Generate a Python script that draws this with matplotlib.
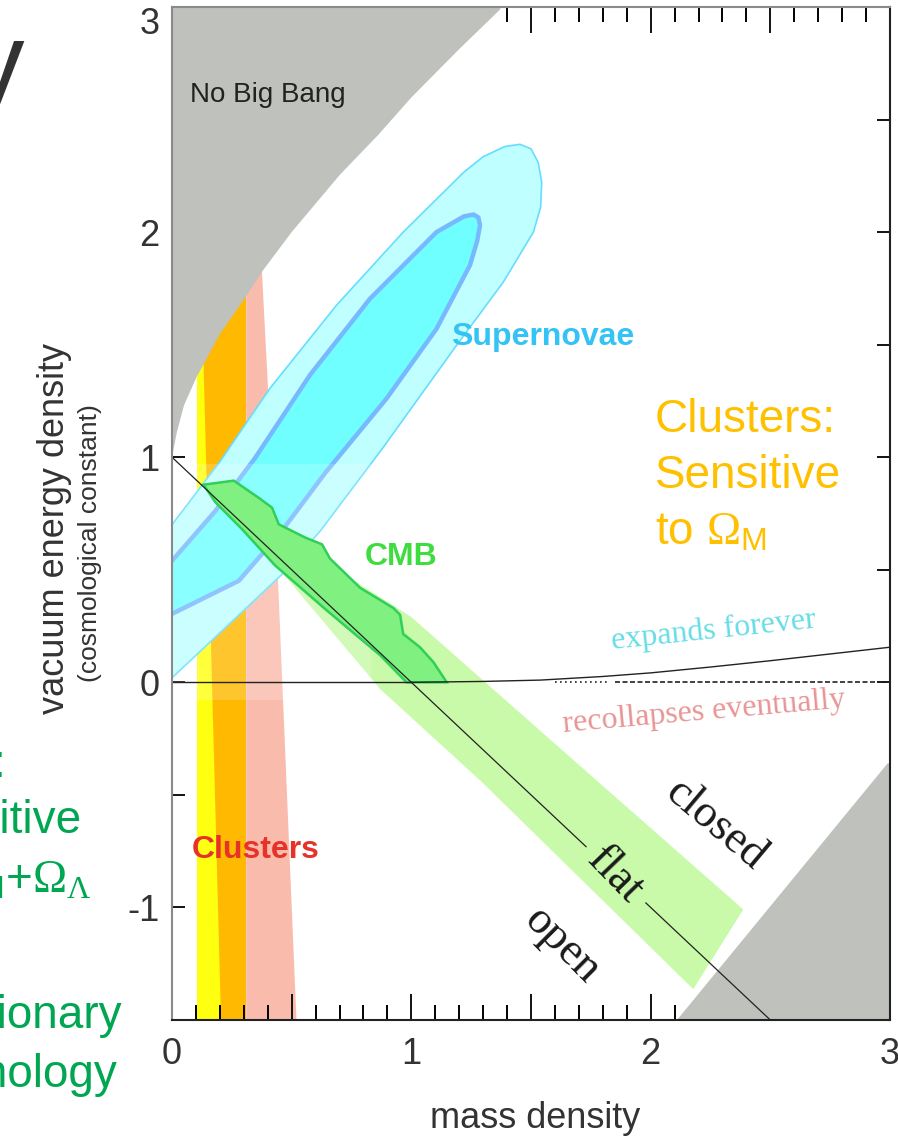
import matplotlib
matplotlib.use("Agg")
import matplotlib.pyplot as plt

plt.rcParams['font.family'] = ['Liberation Sans', 'DejaVu Sans']
plt.rcParams['axes.unicode_minus'] = False
plt.rcParams['mathtext.fontset'] = 'custom'
plt.rcParams['mathtext.rm'] = 'Liberation Serif'
plt.rcParams['mathtext.it'] = 'Liberation Serif:italic'
plt.rcParams['mathtext.sf'] = 'Liberation Sans'

# ---------------- data ----------------
# "No Big Bang" boundary (mass density, vacuum energy density)
nobb_x = [0.0, 0.02, 0.05, 0.1, 0.2, 0.3, 0.38, 0.5, 0.7, 0.86, 1.0, 1.2, 1.37]
nobb_y = [1.0, 1.11, 1.23, 1.35, 1.547, 1.70, 1.83, 2.0, 2.253, 2.43, 2.598, 2.813, 2.988]

# lower-right excluded wedge edge
wedge_x = [2.11, 2.99]
wedge_y = [-1.50, -0.36]

# cluster constraints (vertical bands)
yellow_x = [0.105, 0.31]
orange_x = [0.205, 0.31, 0.31, 0.0925]
orange_y = [-1.5, -1.5, 3.0, 3.0]
pink_x = [0.31, 0.31, 0.33, 0.376, 0.443, 0.52]
pink_y = [-1.5, 3.0, 3.0, 1.82, 0.45, -1.5]

# supernovae confidence contours
sn_outer_x = [-0.25, 0.0, 0.2, 0.46, 0.62, 0.88, 1.18, 1.385, 1.51, 1.54, 1.545, 1.53,
              1.50, 1.454, 1.39, 1.30, 1.218, 0.966, 0.688, 0.41, 0.2, 0.0, -0.25]
sn_outer_y = [-0.22, 0.02, 0.22, 0.48, 0.673, 1.04, 1.484, 1.779, 2.0, 2.11, 2.22, 2.31,
              2.37, 2.39, 2.38, 2.335, 2.265, 2.0, 1.676, 1.307, 0.98, 0.70, 0.36]
sn_inner_x = [-0.2, 0.0, 0.279, 0.45, 0.64, 0.896, 1.105, 1.245, 1.275, 1.287, 1.28,
              1.26, 1.22, 1.105, 0.827, 0.577, 0.348, 0.181, 0.0, -0.2]
sn_inner_y = [0.17, 0.304, 0.451, 0.66, 0.93, 1.26, 1.57, 1.853, 1.96, 2.03, 2.065,
              2.078, 2.07, 2.0, 1.704, 1.366, 0.998, 0.761, 0.54, 0.28]

# CMB: broad band and confidence contour
cmb_band_x = [0.13, 1.0, 1.677, 2.387, 2.178, 1.292, 0.87, 0.45]
cmb_band_y = [0.88, 0.29, -0.345, -1.009, -1.363, -0.44, -0.03, 0.50]
cmb_x = [0.132, 0.258, 0.362, 0.418, 0.446, 0.557, 0.627, 0.66, 0.786, 0.925,
         0.953, 0.966, 1.036, 1.092, 1.148, 0.98, 0.87, 0.646, 0.43, 0.293, 0.181]
cmb_y = [0.878, 0.896, 0.82, 0.776, 0.702, 0.643, 0.613, 0.55, 0.42, 0.33,
         0.30, 0.215, 0.156, 0.09, 0.0, 0.0, 0.12, 0.32, 0.52, 0.68, 0.80]

# flat universe line (drawn in two pieces around its label)
flat_a_x = [0.0, 1.73]
flat_a_y = [1.0, -0.73]
flat_b_x = [1.98, 2.5]
flat_b_y = [-0.98, -1.5]

# expands forever / recollapses boundary
exp_x = [1.0, 1.3, 1.54, 1.8, 2.0, 2.25, 2.5, 2.75, 3.0]
exp_y = [0.0, 0.004, 0.01, 0.026, 0.042, 0.068, 0.096, 0.126, 0.156]

xtick_pos = [0, 0.5, 1, 1.5, 2, 2.5, 3]
xtick_labels = ['0', '', '1', '', '2', '', '3']
ytick_pos = [-1.5, -1, -0.5, 0, 0.5, 1, 1.5, 2, 2.5, 3]
ytick_labels = ['', '-1', '', '0', '', '1', '', '2', '', '3']

# ---------------- figure ----------------
W, H = 898, 1143
fig = plt.figure(figsize=(W / 100, H / 100), dpi=100)
ax = fig.add_axes([172 / W, 1 - 1020 / H, 718 / W, 1013 / H])
ax.set_xlim(0, 3)
ax.set_ylim(-1.5, 3)

# cluster bands
ax.fill([yellow_x[0], yellow_x[1], yellow_x[1], yellow_x[0]], [-1.5, -1.5, 3, 3],
        color='#ffff10', lw=0, zorder=1)
ax.fill(orange_x, orange_y, color='#ffb900', lw=0, zorder=1.1)
ax.fill(pink_x, pink_y, color='#f9bbab', lw=0, zorder=1.2)

# CMB broad band
ax.fill(cmb_band_x, cmb_band_y, color='#c8faaa', lw=0, zorder=1.5)

# supernovae contours
ax.fill(sn_outer_x, sn_outer_y, facecolor='#c0ffff', edgecolor='#66ddff', lw=1.2, zorder=2)
ax.fill(sn_inner_x, sn_inner_y, facecolor='#70ffff', edgecolor='#78b8ff', lw=3.2, zorder=3)

# light haze over the lower-left part of the plot
ax.fill([0.0, 0.83, 0.83, 0.0], [-0.08, -0.08, 0.97, 0.97], color='white', alpha=0.18,
        lw=0, zorder=3.5)

# CMB contour
ax.fill(cmb_x, cmb_y, facecolor='#80f080', edgecolor='#2fcf58', lw=1.8, zorder=4)

# excluded regions
ax.fill(nobb_x + [nobb_x[-1] + 0.02, 0.0], nobb_y + [3.05, 3.05], color='#bfc1bd', lw=0, zorder=5)
ax.fill(wedge_x + [3.0, 3.0], wedge_y + [-0.36, -1.5], color='#bfc1bd', lw=0, zorder=5)

# lines
ax.plot(flat_a_x, flat_a_y, color='#222222', lw=0.9, zorder=6)
ax.plot(flat_b_x, flat_b_y, color='#222222', lw=0.9, zorder=6)
ax.plot([0.0, 1.0], [0.0, 0.0], color='#222222', lw=1.0, zorder=6)
ax.plot(exp_x, exp_y, color='#222222', lw=1.0, zorder=6)
ax.plot([1.6, 1.83], [0.0, 0.0], color='#222222', lw=1.2, ls=(0, (1, 2)), zorder=6)
ax.plot([1.85, 3.0], [0.0, 0.0], color='#222222', lw=1.2, ls=(0, (3, 1.5)), zorder=6)

# labels inside the plot
ax.text(0.075, 2.609, 'No Big Bang', fontsize=20, color='#222222', ha='left', va='center', zorder=7)
ax.text(1.55, 1.534, 'Supernovae', fontsize=23, fontweight='bold', color='#33c3f5',
        ha='center', va='center', zorder=7)
ax.text(0.957, 0.557, 'CMB', fontsize=23, fontweight='bold', color='#3fdc3f',
        ha='center', va='center', zorder=7)
ax.text(0.351, -0.745, 'Clusters', fontsize=23, fontweight='bold', color='#e63228',
        ha='center', va='center', zorder=7)
serif = ['Liberation Serif', 'DejaVu Serif']
ax.text(2.261, 0.232, 'expands forever', fontsize=23, color='#66dde6', family=serif,
        rotation=6, ha='center', va='center', zorder=7)
ax.text(2.223, -0.132, 'recollapses eventually', fontsize=23, color='#e89595', family=serif,
        rotation=5, ha='center', va='center', zorder=7)
ax.text(2.269, -0.634, 'closed', fontsize=33, color='#1a1a1a', family=serif,
        rotation=-40, ha='center', va='center', zorder=7)
ax.text(1.851, -0.856, 'flat', fontsize=33, color='#1a1a1a', family=serif,
        rotation=-46, ha='center', va='center', zorder=7)
ax.text(1.63, -1.167, 'open', fontsize=33, color='#1a1a1a', family=serif,
        rotation=-45, ha='center', va='center', zorder=7)

# axes styling
for side in ['top', 'left']:
    ax.spines[side].set_color('#8a8a8a')
for side in ['bottom', 'right']:
    ax.spines[side].set_color('#222222')
for s in ax.spines.values():
    s.set_linewidth(1.5)
    s.set_zorder(8)

ax.set_xticks(xtick_pos)
ax.set_xticklabels(xtick_labels)
ax.set_xticks([i / 10 for i in range(31)], minor=True)
ax.set_yticks(ytick_pos)
ax.set_yticklabels(ytick_labels)
ax.tick_params(axis='x', which='major', direction='in', length=19, width=1.4,
               top=True, bottom=True, labelsize=26, pad=12, colors='#111111')
ax.tick_params(axis='x', which='minor', direction='in', length=11, width=1.4,
               top=True, bottom=True)
ax.tick_params(axis='y', which='major', direction='in', length=9.5, width=1.4,
               left=True, right=True, labelsize=26, pad=9, colors='#111111')
for lab in ax.get_xticklabels() + ax.get_yticklabels():
    lab.set_color('#333333')
ax.get_yticklabels()[-1].set_verticalalignment('top')

# axis titles
fig.text(535 / W, 1 - 1118 / H, 'mass density', fontsize=26, color='#333333',
         ha='center', va='center')
fig.text(55 / W, 1 - 528 / H, 'vacuum energy density', fontsize=26, color='#333333',
         rotation=90, ha='center', va='center')
fig.text(90 / W, 1 - 543 / H, '(cosmological constant)', fontsize=19, color='#333333',
         rotation=90, ha='center', va='center')

# side notes
orange = '#ffc000'
fig.text(655 / W, 1 - 432 / H, 'Clusters:', fontsize=33, color=orange, ha='left', va='baseline')
fig.text(655 / W, 1 - 488 / H, 'Sensitive', fontsize=33, color=orange, ha='left', va='baseline')
fig.text(655 / W, 1 - 545 / H, r'to $\Omega_{\mathsf{M}}$', fontsize=33, color=orange,
         ha='left', va='baseline')

green = '#00a651'
fig.text(6 / W, 1 - 777 / H, 'CMB:', fontsize=33, color=green, ha='right', va='baseline')
fig.text(82 / W, 1 - 833 / H, 'Sensitive', fontsize=33, color=green, ha='right', va='baseline')
fig.text(92 / W, 1 - 893 / H, r'to $\Omega_{\mathsf{M}}$+$\Omega_{\Lambda}$', fontsize=33,
         color=green, ha='right', va='baseline')
fig.text(122 / W, 1 - 1028 / H, 'Inflationary', fontsize=33, color=green, ha='right', va='baseline')
fig.text(117 / W, 1 - 1087 / H, 'cosmology', fontsize=33, color=green, ha='right', va='baseline')

fig.text(24 / W, 1 - 100 / H, 'y', fontsize=80, color='#333333', ha='right', va='baseline')

fig.savefig('out.png', dpi=100)
